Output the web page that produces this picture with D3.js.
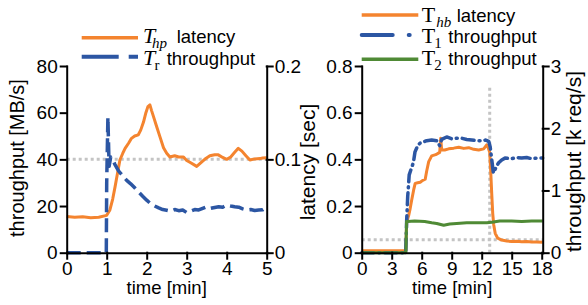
<!DOCTYPE html>
<html><head><meta charset="utf-8">
<script src="https://cdn.jsdelivr.net/npm/d3@7"></script>
<style>
html,body{margin:0;padding:0;background:#fff;}
svg text{font-family:"Liberation Sans",Arial,sans-serif;fill:#000;}
.serif{font-family:"Liberation Serif","Times New Roman",serif;}
</style>
</head><body>
<svg id="c" width="588" height="305"></svg>
<script>
// ---------- data: left panel ----------
const leftTicksX = [0,1,2,3,4,5];
const leftTicksY = [0,20,40,60,80];
const leftTicksY2 = [0,0.1,0.2];
const leftBlueTime = [0,0.5,0.99,1.0,1.03,1.06,1.1,1.15,1.2,1.3,1.4,1.5,1.6,1.7,1.8,1.9,2.0,2.1,2.2,2.3,2.4,2.5,2.6,2.7,2.8,2.9,3.0,3.1,3.2,3.3,3.4,3.5,3.6,3.7,3.8,3.9,4.0,4.1,4.2,4.3,4.4,4.5,4.6,4.7,4.8,4.9,5.0];
const leftBlueThroughput = [0,0,0,30,58,37,41,40,38,35,33,31,29.5,27.8,26,24.2,22.5,21,20,19.2,18.5,18.2,17.8,18.5,18,18.3,17.2,17.8,18.5,18.3,19,19.7,19,19.4,19.7,19.5,20.4,20,19.7,19.5,18.8,18.3,18.5,18.1,18.3,18.4,19.7];
const leftOrangeTime = [0,0.2,0.4,0.6,0.8,1.0,1.08,1.15,1.21,1.27,1.33,1.4,1.46,1.55,1.62,1.7,1.79,1.85,1.92,1.98,2.03,2.08,2.12,2.17,2.25,2.33,2.42,2.5,2.58,2.7,2.8,2.92,3.0,3.1,3.25,3.35,3.45,3.58,3.7,3.79,3.9,4.0,4.1,4.2,4.29,4.38,4.48,4.58,4.7,4.83,4.9,5.0];
const leftOrangeLatency = [0.0388,0.038,0.0385,0.0375,0.038,0.04,0.0458,0.0575,0.0708,0.085,0.0993,0.1063,0.1118,0.1175,0.1225,0.125,0.1263,0.1313,0.14,0.15,0.1565,0.1583,0.1525,0.1458,0.135,0.1243,0.1125,0.1065,0.1025,0.1038,0.1025,0.1025,0.0988,0.0963,0.0925,0.0963,0.1,0.1038,0.105,0.1048,0.102,0.1,0.1025,0.1075,0.1118,0.1088,0.1038,0.0993,0.1005,0.1008,0.1015,0.1018];
const leftRefThroughput = 40;

// ---------- data: right panel ----------
const rightTicksX = [0,3,6,9,12,15,18];
const rightTicksY = [0,0.2,0.4,0.6,0.8];
const rightTicksY2 = [0,1,2,3];
const rightOrangeTime = [0,2,4.4,4.5,4.7,4.85,5.0,5.2,5.35,5.6,5.85,6.1,6.35,6.5,6.7,7.0,7.4,7.8,7.9,8.0,8.3,8.7,9.2,9.7,10.2,10.7,11.2,11.7,12.2,12.5,12.65,12.8,12.9,13.0,13.1,13.2,13.35,13.6,14,14.5,15,15.5,16,16.5,17,17.5,18.1];
const rightOrangeLatency = [0.008,0.008,0.008,0.13,0.16,0.19,0.226,0.27,0.297,0.3,0.302,0.31,0.315,0.35,0.39,0.415,0.42,0.43,0.49,0.44,0.44,0.445,0.448,0.452,0.447,0.45,0.443,0.44,0.445,0.462,0.45,0.43,0.35,0.255,0.17,0.12,0.083,0.062,0.054,0.05,0.048,0.049,0.047,0.048,0.046,0.046,0.045];
const rightBlueTime = [0,4.4,4.5,4.6,4.75,5.0,5.17,5.33,5.6,5.83,6.2,6.5,7,7.5,7.8,8,8.5,9,9.5,10,10.5,11,11.5,12,12.4,12.7,12.85,13.0,13.17,13.4,13.67,14,14.33,15,15.5,16,16.5,17,17.5,18.1];
const rightBlueThroughput = [0,0,0.53,0.9,1.25,1.37,1.45,1.62,1.72,1.76,1.78,1.8,1.81,1.8,1.72,1.82,1.86,1.83,1.84,1.84,1.82,1.81,1.8,1.8,1.81,1.79,1.7,1.5,1.28,1.36,1.44,1.49,1.52,1.51,1.53,1.52,1.53,1.51,1.52,1.52];
const rightGreenTime = [0,4.42,4.48,4.6,5.3,6.3,7.0,7.5,8.2,8.8,9.5,10.5,11.5,12.5,13.0,13.8,15,16,17,18.1];
const rightGreenThroughput = [0,0,0.5,0.5,0.51,0.5,0.48,0.47,0.44,0.46,0.47,0.48,0.48,0.48,0.49,0.51,0.51,0.5,0.51,0.51];
const rightRefLatency = 0.055;
const rightRefTime = 12.8;
const rightRefTop = 0.72;

const ORANGE = "#f4842f", BLUE = "#2c56a3", GREEN = "#4f8a35", GRAY = "#c4c4c4";

const svg = d3.select("#c");
const plotTop = 66, plotBottom = 252.7;

function panel(o){
  const g = svg.append("g");
  const x = d3.scaleLinear().domain(o.xDomain).range(o.xRange);
  const y = d3.scaleLinear().domain(o.yDomain).range([plotBottom, plotTop]);
  const y2 = d3.scaleLinear().domain(o.y2Domain).range([plotBottom, plotTop]);
  const line = (sx, sy) => d3.line().x(d=>sx(d[0])).y(d=>sy(d[1]));
  o.refs.forEach(r=>{
    g.append("path").attr("d", line(x, r.scale==="y2"?y2:y)(r.pts))
      .attr("fill","none").attr("stroke",GRAY).attr("stroke-width",3).attr("stroke-dasharray","3,3");
  });
  o.series.forEach(s=>{
    const sy = s.axis==="y2"?y2:y;
    g.append("path").attr("d", line(x, sy)(d3.zip(s.t, s.v)))
      .attr("fill","none").attr("stroke",s.color).attr("stroke-width",s.w||3)
      .attr("stroke-linejoin","round").attr("stroke-linecap", s.cap||"butt")
      .attr("stroke-dasharray", s.dash||null);
  });
  const ax = g.append("g").attr("transform",`translate(0,${plotBottom})`)
    .call(d3.axisBottom(x).tickValues(o.xTicks).tickSize(6).tickSizeOuter(0).tickPadding(3).tickFormat(d3.format("d")));
  const ay = g.append("g").attr("transform",`translate(${o.xRange[0]},0)`)
    .call(d3.axisLeft(y).tickValues(o.yTicks).tickSize(6).tickSizeOuter(0).tickPadding(3).tickFormat(o.yFmt));
  const ay2 = g.append("g").attr("transform",`translate(${o.xRange[1]},0)`)
    .call(d3.axisRight(y2).tickValues(o.y2Ticks).tickSize(6).tickSizeOuter(0).tickPadding(2).tickFormat(o.y2Fmt));
  [ax,ay,ay2].forEach(a=>{
    a.selectAll("path,line").attr("stroke","#000").attr("stroke-width",2).attr("stroke-linecap","square");
    a.selectAll("text").style("font-size","19px").attr("fill","#000");
  });
  g.append("text").attr("x",(o.xRange[0]+o.xRange[1])/2).attr("y",294)
    .attr("text-anchor","middle").style("font-size","18.5px").text("time [min]");
  g.append("text").attr("transform",`translate(${o.yLab.x},${o.yLab.y}) rotate(-90)`)
    .attr("text-anchor","middle").style("font-size",o.yLab.fs+"px").text(o.yLab.text);
  if(o.y2Lab){
    g.append("text").attr("transform",`translate(${o.y2Lab.x},${o.y2Lab.y}) rotate(-90)`)
      .attr("text-anchor","middle").style("font-size",o.y2Lab.fs+"px").text(o.y2Lab.text);
  }
  return g;
}

panel({
  xDomain:[0,5], xRange:[66.7,266.7], yDomain:[0,80], y2Domain:[0,0.2],
  xTicks:leftTicksX, yTicks:leftTicksY, y2Ticks:leftTicksY2,
  yFmt:d3.format("d"), y2Fmt:d=>d===0?"0":d3.format(".1f")(d),
  refs:[{scale:"y", pts:[[0,leftRefThroughput],[5,leftRefThroughput]]}],
  series:[
    {t:leftOrangeTime, v:leftOrangeLatency, axis:"y2", color:ORANGE, w:3},
    {t:leftBlueTime, v:leftBlueThroughput, axis:"y", color:BLUE, w:3.5, dash:"14,6"}
  ],
  yLab:{x:23.5, y:158, fs:20, text:"throughput [MB/s]"}
});

panel({
  xDomain:[0,18.1], xRange:[361.7,542.7], yDomain:[0,0.8], y2Domain:[0,3],
  xTicks:rightTicksX, yTicks:rightTicksY, y2Ticks:rightTicksY2,
  yFmt:d=>d===0?"0":d3.format(".1f")(d), y2Fmt:d3.format("d"),
  refs:[{scale:"y", pts:[[0,rightRefLatency],[18.1,rightRefLatency]]},
        {scale:"y", pts:[[rightRefTime,0],[rightRefTime,rightRefTop]]}],
  series:[
    {t:rightOrangeTime, v:rightOrangeLatency, axis:"y", color:ORANGE, w:3},
    {t:rightBlueTime, v:rightBlueThroughput, axis:"y2", color:BLUE, w:3.5, dash:"12,5,1,5", cap:"round"},
    {t:rightGreenTime, v:rightGreenThroughput, axis:"y2", color:GREEN, w:3}
  ],
  yLab:{x:314.5, y:162, fs:21, text:"latency [sec]"},
  y2Lab:{x:580.5, y:161.5, fs:21, text:"throughput [k req/s]"}
});

// ---------- legends ----------
const legendLeft = [
  {y:37.7, color:ORANGE, dash:null, cap:"butt", T:"T", Tit:true, sub:"hp", subIt:true, subDx:9, label:"latency", base:43.3, lx:176.7},
  {y:56.7, color:BLUE, dash:"37,10", cap:"butt", T:"T", Tit:true, sub:"r", subIt:false, subDx:11.5, label:"throughput", base:65, lx:166.7}
];
const legendRight = [
  {y:15, color:ORANGE, dash:null, cap:"butt", T:"T", Tit:false, sub:"hb", subIt:true, subDx:14.5, label:"latency", base:22.3, lx:456.7},
  {y:35, color:BLUE, dash:"31,16,1,16", cap:"round", T:"T", Tit:false, sub:"1", subIt:false, subDx:12.5, label:"throughput", base:43.3, lx:448.3},
  {y:59.3, color:GREEN, dash:null, cap:"butt", T:"T", Tit:false, sub:"2", subIt:false, subDx:12.5, label:"throughput", base:64.5, lx:448.3}
];
function legend(items, x0, x1, tx){
  const g = svg.append("g");
  items.forEach(it=>{
    g.append("line").attr("x1",x0).attr("x2",x1).attr("y1",it.y).attr("y2",it.y)
      .attr("stroke",it.color).attr("stroke-width",it.dash?4:3.5)
      .attr("stroke-dasharray",it.dash).attr("stroke-linecap",it.cap);
    const t = g.append("text").attr("x",tx).attr("y",it.base);
    t.append("tspan").attr("class","serif").attr("x",tx).attr("y",it.base)
      .style("font-size","22px").style("font-style",it.Tit?"italic":"normal").text(it.T);
    t.append("tspan").attr("class","serif").attr("x",tx+it.subDx).attr("y",it.base+5)
      .style("font-size","15px").style("font-style",it.subIt?"italic":"normal").text(it.sub);
    t.append("tspan").attr("x",it.lx).attr("y",it.base).style("font-size","18.5px").text(it.label);
  });
}
legend(legendLeft, 81.7, 138, 143);
legend(legendRight, 361.7, 418.3, 421.7);
</script>
</body></html>
